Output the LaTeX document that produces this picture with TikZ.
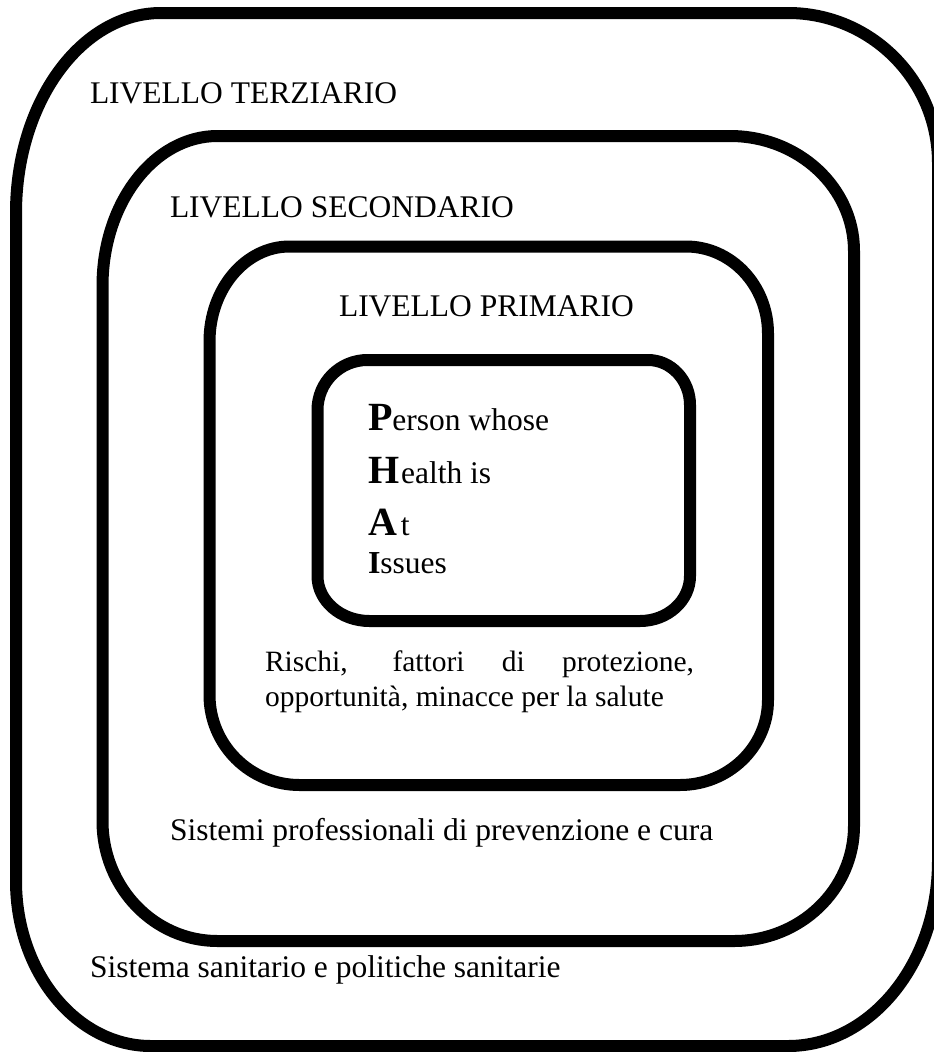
\documentclass[tikz,border=0pt]{standalone}
\usepackage{fontspec}
\setmainfont{Liberation Serif}
\newcommand\normtxt{\fontsize{31.5}{37}\selectfont}
\newcommand\smalltxt{\fontsize{29.5}{35}\selectfont}
\newcommand\bigltr{\fontsize{40}{42}\selectfont\bfseries}
\newcommand\midltr{\fontsize{32}{37}\selectfont\bfseries}
\newcommand\ringbox[4]{%
 \draw[boxline] ({#1},{#2+\tly}) .. controls ({#1},{#2+\tly*0.4477}) and ({#1+\tlx*0.4477},{#2}) .. ({#1+\tlx},{#2})
 -- ({#3-\trx},{#2}) .. controls ({#3-\trx*0.4477},{#2}) and ({#3},{#2+\try*0.4477}) .. ({#3},{#2+\try})
 -- ({#3},{#4-\bry}) .. controls ({#3},{#4-\bry*0.4477}) and ({#3-\brx*0.4477},{#4}) .. ({#3-\brx},{#4})
 -- ({#1+\blx},{#4}) .. controls ({#1+\blx*0.4477},{#4}) and ({#1},{#4-\bly*0.4477}) .. ({#1},{#4-\bly})
 -- cycle;}
\begin{document}
\begin{tikzpicture}[x=1pt,y=-1pt,
  boxline/.style={draw=black,line width=12pt,line join=round},
  lbl/.style={anchor=base west,inner sep=0pt,outer sep=0pt,font=\normtxt}]
\useasboundingbox (0,0) rectangle (934,1052);
\fill[white] (0,0) rectangle (934,1052);
% outer box (tertiary)
\def\tlx{145}\def\tly{200}\def\trx{150}\def\try{150}\def\brx{150}\def\bry{185}\def\blx{135}\def\bly{165}
\ringbox{16}{13}{938}{1046}
% secondary
\def\tlx{115}\def\tly{150}\def\trx{124}\def\try{115}\def\brx{120}\def\bry{115}\def\blx{115}\def\bly{120}
\ringbox{102.5}{136}{854}{941}
% primary
\def\tlx{80}\def\tly{95}\def\trx{82}\def\try{87}\def\brx{88}\def\bry{85}\def\blx{90}\def\bly{90}
\ringbox{209.5}{246.5}{768}{785}
% PHAI
\def\tlx{50}\def\tly{50}\def\trx{42}\def\try{45}\def\brx{50}\def\bry{45}\def\blx{52}\def\bly{45}
\ringbox{317.5}{360}{690}{621}
% labels
\node[lbl] (ter) at (90,103) {LIVELLO TERZIARIO};
\node[lbl] (sec) at (170,217) {LIVELLO SECONDARIO};
\node[lbl] (pri) at (339,316) {LIVELLO PRIMARIO};
\node[lbl] (p1) at (368,430) {{\bigltr P}erson whose};
\node[lbl] (p2) at (368,483) {{\bigltr H}\kern2pt ealth is};
\node[lbl] (p3) at (368,535) {{\bigltr A}\kern4pt t};
\node[lbl] (p4) at (368,573) {{\midltr I}ssues};
\node[lbl,font=\smalltxt] (r1) at (265,671) {\makebox[429pt][s]{Rischi, fattori di protezione,}};
\node[lbl,font=\smalltxt] (r2) at (265,706) {opportunità, minacce per la salute};
\node[lbl] (sp) at (170,840) {Sistemi professionali di prevenzione e cura};
\node[lbl] (ss) at (90,977) {Sistema sanitario e politiche sanitarie};
\end{tikzpicture}
\end{document}
